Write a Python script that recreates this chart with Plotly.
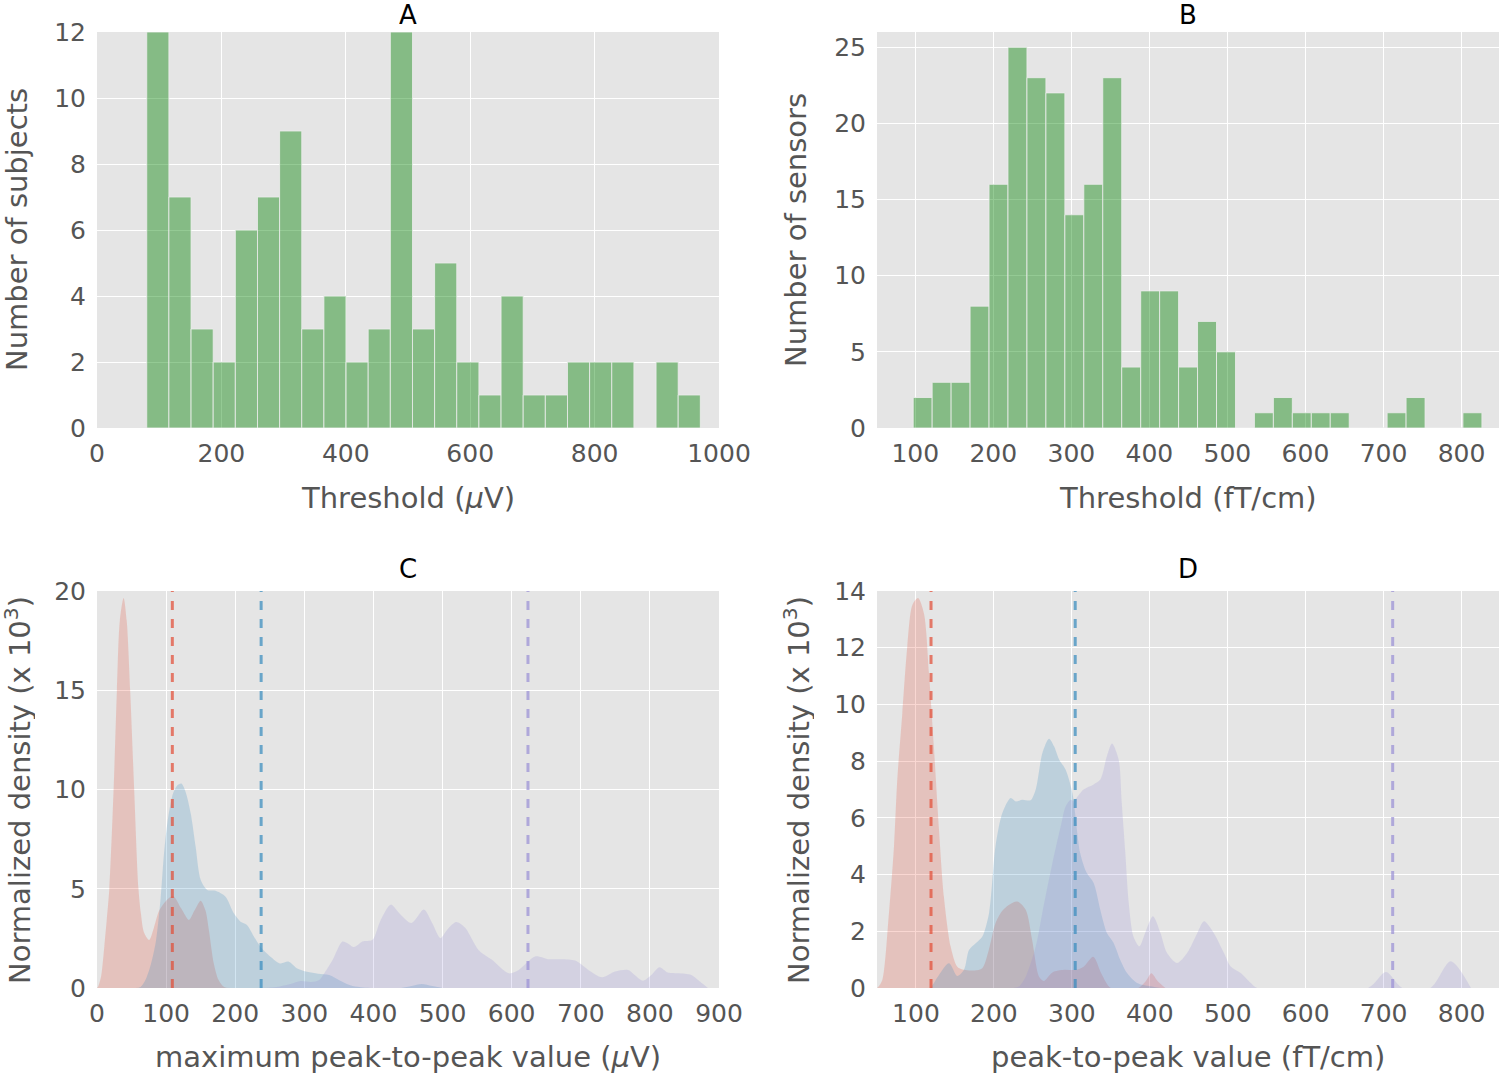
import plotly.graph_objects as go

# ---- panel A: thresholds per subject (uV), histogram counts
a_bin_start = 80.0
a_bin_width = 35.6
a_counts = [12, 7, 3, 2, 6, 7, 9, 3, 4, 2, 3, 12, 3, 5, 2, 1, 4, 1, 1, 2, 2, 2, 0, 2, 1]

# ---- panel B: thresholds per sensor (fT/cm), histogram counts
b_bin_start = 97.4
b_bin_width = 24.29
b_counts = [2, 3, 3, 8, 16, 25, 23, 22, 14, 16, 23, 4, 9, 9, 4, 7, 5, 0,
            1, 2, 1, 1, 1, 0, 0, 1, 2, 0, 0, 1]

# ---- panel C: densities of max peak-to-peak (uV), x10^3
c_red_x = [0, 2, 6, 10.6, 14, 17.8, 24, 28.8, 33, 38.5, 43, 48, 53.8, 60, 63.5, 68,
           75.5, 82, 90, 100, 110, 122, 133, 141, 150, 157, 162, 169, 176, 184, 200]
c_red_y = [0, 0.1, 0.6, 2.1, 3.4, 5.0, 10.0, 15.0, 18.5, 19.65, 18.5, 15.0, 10.0, 5.0, 3.76, 2.8,
           2.42, 3.0, 3.9, 4.4, 4.64, 4.0, 3.43, 3.9, 4.4, 3.9, 2.9, 1.24, 0.4, 0.05, 0]

c_blue_x = [55, 63, 70, 78, 85, 92, 97, 103, 110, 116, 122, 128, 135.6, 142.8, 150, 159.6,
            171.6, 186, 198, 207.7, 217, 227, 236.5, 251, 265, 277, 289, 304, 320, 336,
            355, 370, 385, 400, 440, 455, 470, 485, 500]
c_blue_y = [0, 0.05, 0.4, 1.2, 2.3, 4.5, 6.8, 8.6, 9.8, 10.2, 10.3, 9.9, 8.8, 7.1, 5.45, 4.94,
            4.9, 4.6, 3.76, 3.34, 3.18, 2.6, 2.08, 1.58, 1.24, 1.33, 1.0, 0.82, 0.72, 0.66,
            0.32, 0.1, 0.03, 0.0, 0.0, 0.1, 0.2, 0.1, 0]

c_purple_x = [240, 260, 280, 295, 310, 321.6, 330, 341, 355, 362.5, 372, 384, 398.6, 410.6,
              425, 437, 455, 473, 485, 497, 506.7, 519.7, 533, 552, 571.6, 595.7, 610, 634,
              653, 672.6, 692, 711, 730.8, 749.5, 768.7, 778, 790, 802, 814, 826, 841, 860,
              869.7, 884]
c_purple_y = [0, 0.05, 0.2, 0.35, 0.3, 0.4, 0.8, 1.42, 2.34, 2.26, 2.06, 2.34, 2.43, 3.44,
              4.2, 3.78, 3.27, 3.95, 3.27, 2.51, 2.93, 3.32, 3.02, 1.92, 1.42, 0.74, 0.91, 1.59,
              1.45, 1.45, 1.38, 0.91, 0.54, 0.83, 0.91, 0.66, 0.37, 0.66, 1.05, 0.78, 0.74, 0.66,
              0.4, 0]
c_thresholds = [109, 237.5, 623.6]

# ---- panel D: densities of peak-to-peak (fT/cm), x10^3
d_red_x = [50, 52, 56.8, 65.3, 71.8, 76, 82.5, 88.9, 95.3, 102.6, 110.3, 116.7, 123, 129.5,
           135.9, 144.5, 153, 161.6, 175, 185, 193, 202, 210, 219, 230, 240.8, 249, 258,
           264, 275, 290, 305, 315, 327.5, 338, 350, 385, 395, 402, 410, 420]
d_red_y = [0, 0.05, 0.28, 2.64, 5.0, 7.35, 9.7, 12.06, 13.5, 13.75, 13.2, 11.1, 8.5, 5.6,
           3.2, 1.46, 0.75, 0.64, 0.62, 0.7, 1.3, 2.28, 2.7, 2.93, 3.05, 2.76, 1.7, 0.4,
           0.25, 0.55, 0.64, 0.64, 0.75, 1.1, 0.5, 0, 0, 0.25, 0.52, 0.25, 0]

d_blue_x = [115, 118.8, 129.5, 142.4, 153, 161.6, 168, 176.6, 185, 193.7, 202, 210.8, 221.5,
            228, 236.5, 247, 253.6, 262.2, 270.7, 277, 283.6, 292, 300.7, 310.7, 319, 328,
            336.5, 345, 353.6, 362, 370.8, 383.6, 400.8, 413.7]
d_blue_y = [0, 0.02, 0.46, 0.87, 0.42, 0.64, 1.34, 1.58, 1.81, 2.64, 5.0, 6.17, 6.7,
            6.58, 6.64, 6.62, 7.0, 8.29, 8.79, 8.53, 8.06, 7.7, 6.88, 4.76, 4.06, 3.7,
            2.76, 1.94, 1.59, 1.0, 0.53, 0.18, 0.06, 0]

d_purple_x = [225, 232, 240.8, 253.6, 262, 275, 285.7, 292, 298.5, 302, 315, 328, 336.5, 345,
              351.5, 360, 364, 368.6, 373, 379, 386.7, 394, 404, 413.7, 422, 435, 448, 461,
              469.5, 482, 495, 503.8, 516.6, 529.5, 538, 680, 703, 724, 760, 786, 812]
d_purple_y = [0, 0.05, 0.4, 1.46, 2.64, 4.4, 5.7, 6.4, 6.64, 6.6, 7.0, 7.18, 7.35, 8.18,
              8.62, 8.06, 6.53, 4.76, 3.0, 1.82, 1.47, 1.94, 2.53, 1.94, 1.24, 0.88, 1.24, 1.94,
              2.35, 1.94, 1.24, 0.76, 0.53, 0.18, 0, 0, 0.56, 0, 0, 0.94, 0]
d_thresholds = [119.3, 304.3, 711.6]

W, H = 1499, 1075
FONT = "DejaVu Sans"
GRAY = "#555555"
BG = "#E5E5E5"

fills = ["rgba(226,74,51,0.22)", "rgba(52,138,189,0.22)", "rgba(152,142,213,0.22)"]
dashes = ["rgba(226,74,51,0.7)", "rgba(52,138,189,0.7)", "rgba(152,142,213,0.7)"]
bar_color = "rgba(0,128,0,0.42)"


def hx(p):
    return p / W


def hy(p):
    return 1 - p / H


fig = go.Figure()

# histograms
a_centers = [a_bin_start + (i + 0.5) * a_bin_width for i in range(len(a_counts))]
b_centers = [b_bin_start + (i + 0.5) * b_bin_width for i in range(len(b_counts))]
fig.add_trace(go.Bar(x=a_centers, y=a_counts, width=a_bin_width, marker_color=bar_color,
                     marker_line=dict(color="#EEEEEE", width=0.8), xaxis="x", yaxis="y"))
fig.add_trace(go.Bar(x=b_centers, y=b_counts, width=b_bin_width, marker_color=bar_color,
                     marker_line=dict(color="#EEEEEE", width=0.8), xaxis="x2", yaxis="y2"))

# densities
for xs, ys, col in [(c_red_x, c_red_y, fills[0]), (c_blue_x, c_blue_y, fills[1]),
                    (c_purple_x, c_purple_y, fills[2])]:
    fig.add_trace(go.Scatter(x=xs, y=ys, mode="lines", fill="tozeroy", fillcolor=col,
                             line=dict(width=0, shape="spline", smoothing=0.8),
                             xaxis="x3", yaxis="y3"))
for xs, ys, col in [(d_red_x, d_red_y, fills[0]), (d_blue_x, d_blue_y, fills[1]),
                    (d_purple_x, d_purple_y, fills[2])]:
    fig.add_trace(go.Scatter(x=xs, y=ys, mode="lines", fill="tozeroy", fillcolor=col,
                             line=dict(width=0, shape="spline", smoothing=0.8),
                             xaxis="x4", yaxis="y4"))

# threshold lines
for v, col in zip(c_thresholds, dashes):
    fig.add_shape(type="line", xref="x3", yref="y3 domain", x0=v, x1=v, y0=0, y1=1,
                  line=dict(color=col, width=3, dash="9px,9px"))
for v, col in zip(d_thresholds, dashes):
    fig.add_shape(type="line", xref="x4", yref="y4 domain", x0=v, x1=v, y0=0, y1=1,
                  line=dict(color=col, width=3, dash="9px,9px"))

ax_common = dict(showgrid=True, gridcolor="white", gridwidth=1.4, zeroline=False,
                 showline=False, ticks="", automargin=False,
                 tickfont=dict(family=FONT, size=25, color=GRAY))

left_dom = [hx(97), hx(719)]
right_dom = [hx(877), 1.0]
top_dom = [hy(428), hy(32)]
bot_dom = [hy(988), hy(591)]

fig.update_layout(
    template="none",
    width=W, height=H, margin=dict(l=0, r=0, t=0, b=0, autoexpand=False),
    paper_bgcolor="white", plot_bgcolor=BG, showlegend=False,
    font=dict(family=FONT, color=GRAY),
    xaxis=dict(domain=left_dom, anchor="y", range=[0, 1000], tickvals=[0, 200, 400, 600, 800, 1000],
               ticklabelstandoff=8, **ax_common),
    yaxis=dict(domain=top_dom, anchor="x", range=[0, 12], tickvals=[0, 2, 4, 6, 8, 10, 12],
               ticklabelstandoff=10, **ax_common),
    xaxis2=dict(domain=right_dom, anchor="y2", range=[51, 848],
                tickvals=[100, 200, 300, 400, 500, 600, 700, 800], ticklabelstandoff=8, **ax_common),
    yaxis2=dict(domain=top_dom, anchor="x2", range=[0, 26], tickvals=[0, 5, 10, 15, 20, 25],
                ticklabelstandoff=10, **ax_common),
    xaxis3=dict(domain=left_dom, anchor="y3", range=[0, 900],
                tickvals=[0, 100, 200, 300, 400, 500, 600, 700, 800, 900], ticklabelstandoff=8, **ax_common),
    yaxis3=dict(domain=bot_dom, anchor="x3", range=[0, 20], tickvals=[0, 5, 10, 15, 20],
                ticklabelstandoff=10, **ax_common),
    xaxis4=dict(domain=right_dom, anchor="y4", range=[50, 848],
                tickvals=[100, 200, 300, 400, 500, 600, 700, 800], ticklabelstandoff=8, **ax_common),
    yaxis4=dict(domain=bot_dom, anchor="x4", range=[0, 14], tickvals=[0, 2, 4, 6, 8, 10, 12, 14],
                ticklabelstandoff=10, **ax_common),
)

label_font = dict(family=FONT, size=29, color=GRAY)
title_font = dict(family=FONT, size=26, color="black")

annotations = [
    # titles (boxes kept small so they stay inside the page)
    dict(text="A", x=hx(408), y=hy(15.5), height=26, font=title_font),
    dict(text="B", x=hx(1188), y=hy(15.5), height=26, font=title_font),
    dict(text="C", x=hx(408), y=hy(569), height=26, font=title_font),
    dict(text="D", x=hx(1188), y=hy(569), height=26, font=title_font),
    # x labels
    dict(text="Threshold (<i>μ</i>V)", x=hx(408), y=hy(498), font=label_font),
    dict(text="Threshold (fT/cm)", x=hx(1188), y=hy(498), font=label_font),
    dict(text="maximum peak-to-peak value (<i>μ</i>V)", x=hx(408), y=hy(1057), font=label_font),
    dict(text="peak-to-peak value (fT/cm)", x=hx(1188), y=hy(1057), font=label_font),
    # y labels
    dict(text="Number of subjects", x=hx(17), y=hy(230), textangle=-90, font=label_font),
    dict(text="Number of sensors", x=hx(796), y=hy(230), textangle=-90, font=label_font),
    dict(text="Normalized density (x 10<sup>3</sup>)", x=hx(18), y=hy(790), textangle=-90,
         height=34, font=label_font),
    dict(text="Normalized density (x 10<sup>3</sup>)", x=hx(797), y=hy(790), textangle=-90,
         height=34, font=label_font),
]
for an in annotations:
    an.update(xref="paper", yref="paper", showarrow=False, xanchor="center",
              yanchor="middle", valign="middle", borderpad=0)
fig.update_layout(annotations=annotations)

# drop the default 8px page margin so the figure fills the window exactly
fig.write_html("out.html", config={"displayModeBar": False},
               post_script="document.body.style.margin = '0px';")
